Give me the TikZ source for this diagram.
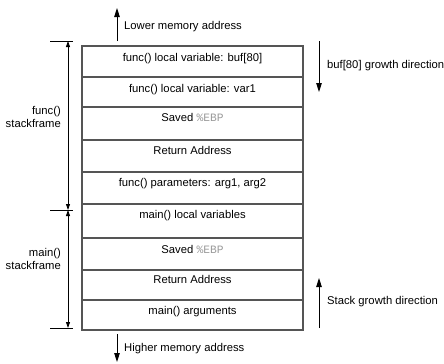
\documentclass[tikz,border=0pt]{standalone}
\usepackage{fontspec}
\setmainfont{Liberation Sans}
\newfontfamily\monof{Liberation Mono}
\usetikzlibrary{arrows.meta}
\definecolor{boxline}{HTML}{555555}
\definecolor{regcol}{HTML}{9A9A9A}
\begin{document}
\begin{tikzpicture}[x=1bp,y=-1bp,
  font=\fontsize{11.3}{13}\selectfont,
  cell/.style={draw=boxline,line width=1.2bp},
  celltext/.style={anchor=base,inner sep=0pt},
  sidelabel/.style={anchor=west,inner sep=0pt},
  framelabel/.style={anchor=east,align=right,inner sep=0pt},
  bigarrow/.style={line width=0.9bp,-{Triangle[length=9bp,width=5.5bp]}},
  axis/.style={line width=0.8bp,-{Triangle[length=6bp,width=4bp]}},
  tick/.style={line width=0.8bp}]
\useasboundingbox (0,0) rectangle (444,363);
% stack box
\draw[cell] (82,46) rectangle (303,330);
\foreach \y in {77,107,140,172,204,238,270,300}
  \draw[cell] (82,\y) -- (303,\y);
% cell texts
\node[celltext] (c1) at (192.5,61) {func() local variable: buf[80]};
\node[celltext] (c2) at (192.5,92) {func() local variable: var1};
\node[celltext] (c3) at (192.5,121) {Saved {\monof\color{regcol}\%EBP}};
\node[celltext] (c4) at (192.5,154) {Return Address};
\node[celltext] (c5) at (192.5,186) {func() parameters: arg1, arg2};
\node[celltext] (c6) at (192.5,218) {main() local variables};
\node[celltext] (c7) at (192.5,253) {Saved {\monof\color{regcol}\%EBP}};
\node[celltext] (c8) at (192.5,283) {Return Address};
\node[celltext] (c9) at (192.5,314) {main() arguments};
% top / bottom memory arrows
\coordinate (lowS) at (117,41);
\coordinate (lowE) at (117,8);
\draw[bigarrow] (lowS) -- (lowE);
\node[sidelabel] (low) at (124,27) {Lower memory address};
\coordinate (highS) at (117,334);
\coordinate (highE) at (117,362);
\draw[bigarrow] (highS) -- (highE);
\node[sidelabel] (high) at (124,349) {Higher memory address};
% right arrows
\coordinate (bufS) at (319,41);
\coordinate (bufE) at (319,92);
\draw[bigarrow] (bufS) -- (bufE);
\node[sidelabel] (buf) at (327,66) {buf[80] growth direction};
\coordinate (stkS) at (319,328);
\coordinate (stkE) at (319,278);
\draw[bigarrow] (stkS) -- (stkE);
\node[sidelabel] (stk) at (327,302) {Stack growth direction};
% left frame markers
\coordinate (t1a) at (50,41);  \coordinate (t1b) at (73,41);
\coordinate (t2a) at (50,210); \coordinate (t2b) at (73,210);
\coordinate (t3a) at (50,328); \coordinate (t3b) at (73,328);
\draw[tick] (t1a) -- (t1b);
\draw[tick] (t2a) -- (t2b);
\draw[tick] (t3a) -- (t3b);
\coordinate (a1) at (68,41);
\coordinate (a2) at (68,210);
\coordinate (a3) at (68,328);
\draw[axis,{Triangle[length=6bp,width=4bp]}-{Triangle[length=6bp,width=4bp]}] (a1) -- (a2);
\draw[axis,{Triangle[length=6bp,width=4bp]}-{Triangle[length=6bp,width=4bp]}] (a2) -- (a3);
\node[framelabel] (ff) at (61,116.5) {func()\\stackframe};
\node[framelabel] (mf) at (61,258.5) {main()\\stackframe};
\end{tikzpicture}
\end{document}
